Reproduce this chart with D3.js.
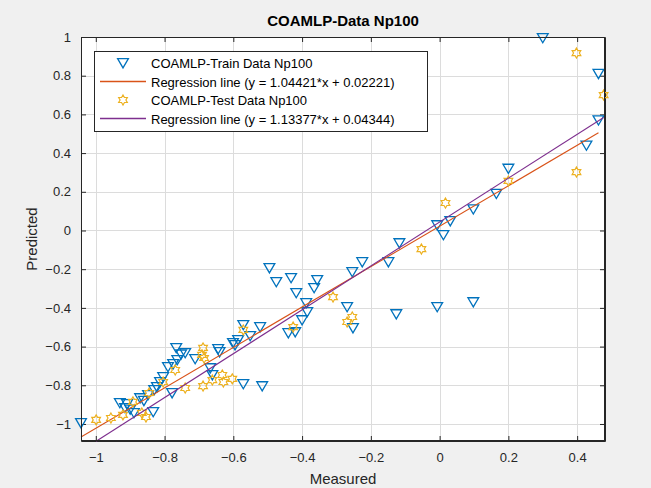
<!DOCTYPE html>
<html>
<head>
<meta charset="utf-8">
<script src="https://cdn.jsdelivr.net/npm/d3@7"></script>
<style>
  html, body { margin: 0; padding: 0; background: #f0f0f0; }
  svg { display: block; }
  text { font-family: "Liberation Sans", Arial, Helvetica, sans-serif; }
</style>
</head>
<body>
<svg id="chart" width="651" height="488"></svg>
<script>
// Training set: measured vs predicted
const trainMeasured = [0.300, 0.462, 0.462, 0.427, 0.200, 0.165, 0.098, 0.031, -0.007, 0.011,
  -0.117, -0.149, -0.225, -0.254, -0.269, -0.252, -0.126, -0.007, 0.098, -0.495,
  -0.475, -0.432, -0.417, -0.356, -0.365, -0.388, -0.385, -0.400, -0.440, -0.420,
  -0.571, -0.522, -0.551, -0.586, -0.595, -0.644, -0.766, -0.740, -0.711, -0.763,
  -0.775, -0.790, -0.667, -0.661, -0.804, -0.813, -0.822, -0.830, -0.778, -0.571,
  -0.516, -0.930, -0.909, -0.915, -0.889, -0.871, -0.833, -0.860, -0.640, -0.601,
  -1.043, -0.900, -0.848, -0.752];
const trainPredicted = [0.995, 0.810, 0.570, 0.440, 0.320, 0.190, 0.110, 0.049, 0.028, -0.023,
  -0.065, -0.163, -0.163, -0.214, -0.395, -0.504, -0.432, -0.395, -0.370, -0.194,
  -0.266, -0.245, -0.323, -0.256, -0.297, -0.375, -0.421, -0.463, -0.530, -0.525,
  -0.488, -0.499, -0.545, -0.566, -0.592, -0.612, -0.607, -0.633, -0.664, -0.669,
  -0.690, -0.705, -0.711, -0.747, -0.757, -0.783, -0.809, -0.824, -0.840, -0.793,
  -0.804, -0.891, -0.897, -0.917, -0.943, -0.866, -0.938, -0.880, -0.628, -0.581,
  -0.995, -0.925, -0.850, -0.640];

// Test set: measured vs predicted
const testMeasured = [0.398, 0.477, 0.398, 0.200, 0.017, -0.053, -0.310, -0.254, -0.269, -0.426,
  -0.571, -0.688, -0.691, -0.769, -0.804, -0.740, -0.688, -0.661, -0.632, -0.629,
  -0.603, -0.845, -0.892, -0.921, -0.956, -0.999, -0.866, -0.854, -0.685];
const testPredicted = [0.917, 0.700, 0.302, 0.256, 0.142, -0.096, -0.344, -0.447, -0.473, -0.499,
  -0.514, -0.607, -0.643, -0.721, -0.783, -0.814, -0.804, -0.773, -0.747, -0.783,
  -0.767, -0.840, -0.886, -0.953, -0.969, -0.979, -0.943, -0.964, -0.659];

// Fitted regression coefficients
const trainFit = { slope: 1.04421, intercept: 0.02221 };
const testFit = { slope: 1.13377, intercept: 0.04344 };

const xTicks = [-1, -0.8, -0.6, -0.4, -0.2, 0, 0.2, 0.4];
const yTicks = [-1, -0.8, -0.6, -0.4, -0.2, 0, 0.2, 0.4, 0.6, 0.8, 1];

const titleText = "COAMLP-Data Np100";
const legendLabels = [
  "COAMLP-Train Data Np100",
  "Regression line (y = 1.04421*x + 0.02221)",
  "COAMLP-Test Data Np100",
  "Regression line (y = 1.13377*x + 0.04344)"
];

const colTrain = "#0072BD", colTrainLine = "#D95319";
const colTest = "#EDB120", colTestLine = "#7E2F8E";
const axisCol = "#262626";

const m = { left: 81, right: 605, top: 37, bottom: 441 };
const svg = d3.select("#chart");

const x = d3.scaleLinear().domain([-1.043, 0.481]).range([m.left, m.right]);
const y = d3.scaleLinear().domain([-1.088, 1]).range([m.bottom, m.top]);

// plot background
svg.append("rect").attr("x", m.left).attr("y", m.top)
  .attr("width", m.right - m.left).attr("height", m.bottom - m.top).attr("fill", "#fff");

// grid
const grid = svg.append("g").attr("stroke", "#dcdcdc").attr("stroke-width", 1);
xTicks.forEach(t => grid.append("line").attr("x1", Math.round(x(t)) + 0.5).attr("x2", Math.round(x(t)) + 0.5)
  .attr("y1", m.top).attr("y2", m.bottom));
yTicks.forEach(t => grid.append("line").attr("y1", Math.round(y(t)) + 0.5).attr("y2", Math.round(y(t)) + 0.5)
  .attr("x1", m.left).attr("x2", m.right));

// axes
const fmt = d => d === 0 ? "0" : d3.format("")(d);
const xAxis = d3.axisBottom(x).tickValues(xTicks).tickSizeInner(-5).tickSizeOuter(0).tickPadding(12).tickFormat(fmt);
const yAxis = d3.axisLeft(y).tickValues(yTicks).tickSizeInner(-5).tickSizeOuter(0).tickPadding(10).tickFormat(fmt);
const xTop = d3.axisTop(x).tickValues(xTicks).tickSizeInner(-5).tickSizeOuter(0).tickFormat("");
const yRight = d3.axisRight(y).tickValues(yTicks).tickSizeInner(-5).tickSizeOuter(0).tickFormat("");

function styleAxis(g) {
  g.select(".domain").attr("stroke", axisCol);
  g.selectAll(".tick line").attr("stroke", axisCol);
  g.selectAll(".tick text").attr("fill", axisCol).attr("font-size", 13)
    .attr("font-family", "'Liberation Sans', Arial, sans-serif");
}
svg.append("g").attr("transform", `translate(0,${m.bottom})`).call(xAxis).call(styleAxis);
svg.append("g").attr("transform", `translate(${m.left},0)`).call(yAxis).call(styleAxis);
svg.append("g").attr("transform", `translate(0,${m.top})`).call(xTop).call(styleAxis);
svg.append("g").attr("transform", `translate(${m.right},0)`).call(yRight).call(styleAxis);

// marker shapes
const triDown = (s) => `M${-s},${-s * 0.8}L${s},${-s * 0.8}L0,${s * 0.9}Z`;
function hexagram(r) {
  const pts = [];
  for (let i = 0; i < 12; i++) {
    const a = -Math.PI / 2 + i * Math.PI / 6;
    const rr = i % 2 === 0 ? r : r * 0.58;
    pts.push([rr * Math.cos(a), rr * Math.sin(a)]);
  }
  return "M" + pts.map(p => p[0].toFixed(2) + "," + p[1].toFixed(2)).join("L") + "Z";
}

const plot = svg.append("g");

// train markers
plot.selectAll(".tr").data(trainMeasured.map((v, i) => [v, trainPredicted[i]])).join("path")
  .attr("d", triDown(5.4))
  .attr("transform", d => `translate(${x(d[0])},${y(d[1])})`)
  .attr("fill", "none").attr("stroke", colTrain).attr("stroke-width", 1.3);

// regression line over the training range
const trExt = d3.extent(trainMeasured);
plot.append("line")
  .attr("x1", x(trExt[0])).attr("y1", y(trainFit.slope * trExt[0] + trainFit.intercept))
  .attr("x2", x(trExt[1])).attr("y2", y(trainFit.slope * trExt[1] + trainFit.intercept))
  .attr("stroke", colTrainLine).attr("stroke-width", 1.1);

// test markers
plot.selectAll(".te").data(testMeasured.map((v, i) => [v, testPredicted[i]])).join("path")
  .attr("d", hexagram(5))
  .attr("transform", d => `translate(${x(d[0])},${y(d[1])})`)
  .attr("fill", "none").attr("stroke", colTest).attr("stroke-width", 1.2);

// regression line over the test range
const teExt = d3.extent(testMeasured);
plot.append("line")
  .attr("x1", x(teExt[0])).attr("y1", y(testFit.slope * teExt[0] + testFit.intercept))
  .attr("x2", x(teExt[1])).attr("y2", y(testFit.slope * teExt[1] + testFit.intercept))
  .attr("stroke", colTestLine).attr("stroke-width", 1.1);

// axis frame
svg.append("rect").attr("x", m.left + 0.5).attr("y", m.top + 0.5)
  .attr("width", m.right - m.left - 1).attr("height", m.bottom - m.top - 1)
  .attr("fill", "none").attr("stroke", axisCol);

// title and labels
svg.append("text").attr("x", (m.left + m.right) / 2).attr("y", 26)
  .attr("text-anchor", "middle").attr("font-size", 15).attr("font-weight", "bold")
  .attr("fill", "#000").text(titleText);
svg.append("text").attr("x", (m.left + m.right) / 2).attr("y", 484)
  .attr("text-anchor", "middle").attr("font-size", 15).attr("fill", axisCol).text("Measured");
svg.append("text").attr("transform", `translate(37,${(m.top + m.bottom) / 2}) rotate(-90)`)
  .attr("text-anchor", "middle").attr("font-size", 15).attr("fill", axisCol).text("Predicted");

// legend
const lg = svg.append("g");
lg.append("rect").attr("x", 94.5).attr("y", 51.5).attr("width", 333).attr("height", 80)
  .attr("fill", "#fff").attr("stroke", axisCol);
const rowY = [63, 81.5, 100, 118.5];
lg.append("path").attr("d", triDown(5.4)).attr("transform", `translate(123,${rowY[0]})`)
  .attr("fill", "none").attr("stroke", colTrain).attr("stroke-width", 1.3);
lg.append("line").attr("x1", 100).attr("x2", 146).attr("y1", rowY[1]).attr("y2", rowY[1])
  .attr("stroke", colTrainLine).attr("stroke-width", 1.5);
lg.append("path").attr("d", hexagram(5)).attr("transform", `translate(123,${rowY[2]})`)
  .attr("fill", "none").attr("stroke", colTest).attr("stroke-width", 1.2);
lg.append("line").attr("x1", 100).attr("x2", 146).attr("y1", rowY[3]).attr("y2", rowY[3])
  .attr("stroke", colTestLine).attr("stroke-width", 1.5);
legendLabels.forEach((t, i) => lg.append("text").attr("x", 151).attr("y", rowY[i] + 5)
  .attr("font-size", 13).attr("fill", "#000").text(t));
</script>
</body>
</html>
